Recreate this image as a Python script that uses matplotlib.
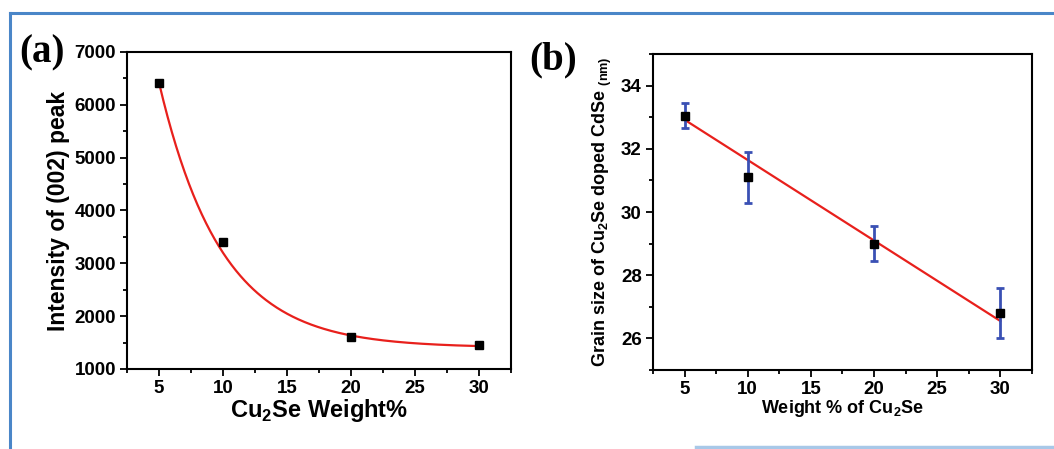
import numpy as np
import matplotlib
matplotlib.use('Agg')
import matplotlib.pyplot as plt
from matplotlib.lines import Line2D
from matplotlib.ticker import MultipleLocator

plt.rcParams['font.family'] = ['Liberation Sans', 'DejaVu Sans']
plt.rcParams['font.weight'] = 'bold'
plt.rcParams['mathtext.fontset'] = 'custom'
plt.rcParams['mathtext.rm'] = 'Liberation Sans:bold'
plt.rcParams['mathtext.bf'] = 'Liberation Sans:bold'

# panel (a) data
wt_a = [5, 10, 20, 30]
intensity = [6420, 3400, 1600, 1450]
# fitted curve
fit_x = [5, 10, 15, 20, 30]
fit_y = [6420, 3200, 2050, 1625, 1440]

# panel (b) data
wt_b = [5, 10, 20, 30]
grain = [33.05, 31.1, 29.0, 26.8]
grain_err = [0.4, 0.8, 0.55, 0.8]
# linear fit line ends
line_x = [5, 30]
line_y = [32.92, 26.55]

fig = plt.figure(figsize=(10.54, 4.49), dpi=100)
ax1 = fig.add_axes([0.1205, 0.1782, 0.3643, 0.706])
ax2 = fig.add_axes([0.6195, 0.1759, 0.3596, 0.7038])

# exponential decay y = y0 + A*exp(-x/t) through the read curve points
xa = np.array(fit_x, float)
ya = np.array(fit_y, float)
best = None
for t in np.linspace(1, 30, 3000):
    M = np.column_stack([np.ones_like(xa), np.exp(-xa / t)])
    coef, *_ = np.linalg.lstsq(M, ya, rcond=None)
    r = np.sum((M @ coef - ya) ** 2)
    if best is None or r < best[0]:
        best = (r, t, coef)
_, t, coef = best
xs = np.linspace(5, 30, 300)
ax1.plot(xs, coef[0] + coef[1] * np.exp(-xs / t), color='#e8201c', lw=1.6, zorder=2)
ax1.plot(wt_a, intensity, 's', color='black', ms=6, zorder=3)

ax1.set_xlim(2.5, 32.5)
ax1.set_ylim(1000, 7000)
ax1.xaxis.set_minor_locator(MultipleLocator(2.5))
ax1.yaxis.set_major_locator(MultipleLocator(1000))
ax1.yaxis.set_minor_locator(MultipleLocator(500))
ax1.set_xticks([5, 10, 15, 20, 25, 30])
ax1.set_xlabel(r'Cu$_\mathbf{2}$Se Weight%', fontsize=17, fontweight='bold', labelpad=0)
ax1.set_ylabel('Intensity of (002) peak', fontsize=16.5, fontweight='bold', labelpad=3)

ax2.plot(line_x, line_y, color='#e8201c', lw=1.6, zorder=2)
ax2.errorbar(wt_b, grain, yerr=grain_err, fmt='s', color='black', ms=6,
             ecolor='#3a50b4', elinewidth=2, capsize=3, capthick=2, zorder=3)
ax2.set_xlim(2.5, 32.5)
ax2.set_ylim(25, 35)
ax2.xaxis.set_minor_locator(MultipleLocator(2.5))
ax2.set_xticks([5, 10, 15, 20, 25, 30])
ax2.set_yticks([26, 28, 30, 32, 34])
ax2.yaxis.set_minor_locator(MultipleLocator(1))
ax2.set_xlabel(r'Weight % of Cu$_\mathbf{2}$Se', fontsize=13, fontweight='bold', labelpad=0)
ax2.set_ylabel(r'Grain size of Cu$_\mathbf{2}$Se doped CdSe $_{\mathbf{(nm)}}$', fontsize=13,
               fontweight='bold', labelpad=5)

for ax in (ax1, ax2):
    for s in ax.spines.values():
        s.set_linewidth(1.5)
    ax.tick_params(which='both', direction='out', top=False, right=False, width=1.3)
    ax.tick_params(which='major', length=5, labelsize=13.5, pad=3)
    ax.tick_params(which='minor', length=3)
    for lab in ax.get_xticklabels() + ax.get_yticklabels():
        lab.set_fontweight('bold')

fig.text(0.018, 0.862, '(a)', fontsize=28, fontweight='bold', family='Liberation Serif')
fig.text(0.502, 0.845, '(b)', fontsize=28, fontweight='bold', family='Liberation Serif')

# blue frame
fig.add_artist(Line2D([0.0095, 1], [0.971, 0.971], color='#4a86c8', lw=2.2))
fig.add_artist(Line2D([0.0095, 0.0095], [0.971, 0.0], color='#4a86c8', lw=2.2))
fig.add_artist(Line2D([0.66, 1], [0.004, 0.004], color='#a8c8e8', lw=2.5))

fig.savefig('out.png', dpi=100)
